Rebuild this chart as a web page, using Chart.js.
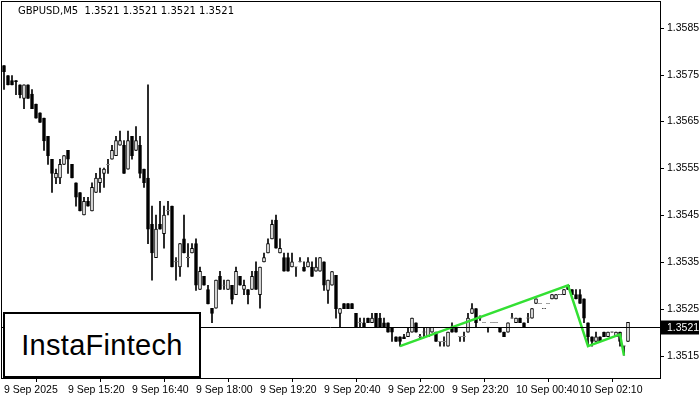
<!DOCTYPE html>
<html>
<head>
<meta charset="utf-8">
<script src="https://cdn.jsdelivr.net/npm/chart.js@4/dist/chart.umd.min.js"></script>
<style>
  body { margin: 0; background: #fff; }
  #wrap { position: relative; width: 700px; height: 400px; }
  #title { position: absolute; left: 18px; top: 5px; font: 10px "DejaVu Sans", sans-serif; color: #000; }
  #logo { position: absolute; left: 3px; top: 312px; width: 194px; height: 62px; border: 2px solid #000; background: #fff;
          font: 29px "Liberation Sans", Arial, sans-serif; color: #000; line-height: 62px; text-align: center; letter-spacing: 0.3px; }
</style>
</head>
<body>
<div id="wrap">
  <canvas id="chart" width="700" height="400"></canvas>
  <div id="title">GBPUSD,M5&nbsp; 1.3521 1.3521 1.3521 1.3521</div>
  <div id="logo">InstaFintech</div>
</div>
<script>
// M5 candles
const opens = [
  1.35769,1.35748,1.35737,1.35737,1.35728,1.35699,1.35728,1.35708,1.35687,1.35668,
  1.35657,1.35618,1.35569,1.35529,1.35529,1.35558,1.35588,1.35558,1.35519,1.35498,
  1.35450,1.35479,1.35459,1.35498,1.35519,1.35539,1.35558,1.35569,1.35577,1.35599,
  1.35599,1.35548,1.35618,1.35588,1.35599,1.35548,1.35529,1.35430,1.35359,1.35430,
  1.35410,1.35459,1.35469,1.35350,1.35339,1.35399,1.35359,1.35369,1.35389,1.35291,
  1.35319,1.35291,1.35251,1.35251,1.35319,1.35300,1.35291,1.35300,1.35280,1.35319,
  1.35291,1.35291,1.35291,1.35330,1.35280,1.35350,1.35369,1.35399,1.35439,1.35369,
  1.35359,1.35359,1.35339,1.35339,1.35350,1.35339,1.35339,1.35339,1.35330,1.35330,
  1.35350,1.35289,1.35300,1.35321,1.35240,1.35261,1.35261,1.35261,1.35240,1.35220,
  1.35220,1.35230,1.35220,1.35240,1.35230,1.35220,1.35220,1.35210,1.35190,1.35190,
  1.35190,1.35190,1.35200,1.35220,1.35190,1.35200,1.35190,1.35200,1.35200,1.35180,
  1.35180,1.35170,1.35210,1.35210,1.35190,1.35190,1.35200,1.35240,1.35250,1.35230,
  1.35220,1.35210,1.35220,1.35220,1.35210,1.35200,1.35200,1.35230,1.35220,1.35230,
  1.35220,1.35230,1.35230,1.35261,1.35261,1.35250,1.35261,1.35271,1.35271,1.35280,
  1.35280,1.35300,1.35291,1.35280,1.35280,1.35271,1.35220,1.35190,1.35180,1.35190,
  1.35200,1.35190,1.35200,1.35190,1.35200,1.35170,1.35180
];
const highs = [
  1.35769,1.35748,1.35748,1.35737,1.35728,1.35728,1.35728,1.35718,1.35687,1.35668,
  1.35657,1.35618,1.35569,1.35548,1.35569,1.35577,1.35588,1.35558,1.35519,1.35498,
  1.35488,1.35488,1.35519,1.35539,1.35550,1.35550,1.35569,1.35599,1.35618,1.35629,
  1.35609,1.35629,1.35618,1.35639,1.35618,1.35548,1.35728,1.35469,1.35450,1.35479,
  1.35469,1.35479,1.35469,1.35359,1.35389,1.35450,1.35389,1.35389,1.35399,1.35339,
  1.35319,1.35300,1.35251,1.35311,1.35330,1.35311,1.35311,1.35300,1.35339,1.35319,
  1.35311,1.35291,1.35330,1.35350,1.35339,1.35369,1.35399,1.35439,1.35450,1.35399,
  1.35369,1.35369,1.35369,1.35339,1.35359,1.35350,1.35359,1.35350,1.35359,1.35359,
  1.35350,1.35311,1.35329,1.35321,1.35250,1.35261,1.35261,1.35261,1.35240,1.35230,
  1.35230,1.35230,1.35240,1.35240,1.35240,1.35230,1.35220,1.35210,1.35190,1.35190,
  1.35195,1.35210,1.35230,1.35220,1.35195,1.35210,1.35210,1.35210,1.35200,1.35180,
  1.35190,1.35200,1.35220,1.35210,1.35190,1.35200,1.35240,1.35261,1.35250,1.35235,
  1.35220,1.35210,1.35220,1.35220,1.35210,1.35200,1.35220,1.35240,1.35230,1.35230,
  1.35220,1.35240,1.35250,1.35271,1.35261,1.35250,1.35261,1.35280,1.35280,1.35280,
  1.35291,1.35300,1.35291,1.35291,1.35291,1.35271,1.35220,1.35190,1.35200,1.35190,
  1.35200,1.35200,1.35200,1.35200,1.35200,1.35170,1.35221
];
const lows = [
  1.35718,1.35728,1.35728,1.35707,1.35700,1.35677,1.35699,1.35677,1.35657,1.35648,
  1.35588,1.35558,1.35498,1.35517,1.35517,1.35558,1.35539,1.35529,1.35469,1.35459,
  1.35450,1.35469,1.35459,1.35498,1.35498,1.35509,1.35539,1.35569,1.35577,1.35599,
  1.35539,1.35548,1.35569,1.35588,1.35529,1.35509,1.35389,1.35311,1.35359,1.35420,
  1.35379,1.35450,1.35339,1.35311,1.35319,1.35369,1.35339,1.35369,1.35289,1.35291,
  1.35300,1.35260,1.35220,1.35251,1.35291,1.35291,1.35291,1.35260,1.35280,1.35300,
  1.35280,1.35260,1.35291,1.35291,1.35251,1.35350,1.35369,1.35399,1.35379,1.35369,
  1.35330,1.35330,1.35339,1.35319,1.35350,1.35330,1.35339,1.35319,1.35330,1.35330,
  1.35289,1.35261,1.35300,1.35230,1.35210,1.35250,1.35250,1.35250,1.35210,1.35210,
  1.35210,1.35220,1.35220,1.35210,1.35210,1.35210,1.35200,1.35180,1.35180,1.35170,
  1.35186,1.35190,1.35200,1.35200,1.35185,1.35190,1.35190,1.35200,1.35180,1.35170,
  1.35170,1.35170,1.35200,1.35200,1.35180,1.35180,1.35200,1.35240,1.35210,1.35225,
  1.35220,1.35200,1.35220,1.35220,1.35200,1.35190,1.35200,1.35230,1.35220,1.35220,
  1.35210,1.35220,1.35230,1.35261,1.35261,1.35250,1.35261,1.35271,1.35271,1.35280,
  1.35280,1.35291,1.35280,1.35271,1.35261,1.35220,1.35170,1.35170,1.35180,1.35180,
  1.35190,1.35190,1.35200,1.35190,1.35170,1.35151,1.35180
];
const closes = [
  1.35756,1.35728,1.35728,1.35735,1.35707,1.35728,1.35699,1.35677,1.35657,1.35648,
  1.35608,1.35577,1.35539,1.35539,1.35558,1.35577,1.35569,1.35529,1.35488,1.35459,
  1.35479,1.35469,1.35509,1.35529,1.35529,1.35548,1.35558,1.35588,1.35609,1.35609,
  1.35539,1.35609,1.35577,1.35609,1.35539,1.35519,1.35420,1.35369,1.35420,1.35420,
  1.35450,1.35459,1.35339,1.35350,1.35389,1.35369,1.35359,1.35379,1.35300,1.35330,
  1.35300,1.35260,1.35240,1.35311,1.35291,1.35300,1.35311,1.35270,1.35330,1.35300,
  1.35300,1.35280,1.35319,1.35291,1.35339,1.35359,1.35389,1.35430,1.35379,1.35379,
  1.35330,1.35330,1.35350,1.35339,1.35350,1.35330,1.35350,1.35319,1.35339,1.35359,
  1.35300,1.35311,1.35329,1.35250,1.35250,1.35250,1.35250,1.35250,1.35210,1.35220,
  1.35210,1.35220,1.35230,1.35210,1.35210,1.35210,1.35200,1.35200,1.35180,1.35180,
  1.35186,1.35200,1.35230,1.35200,1.35190,1.35200,1.35210,1.35210,1.35180,1.35180,
  1.35180,1.35200,1.35200,1.35200,1.35190,1.35190,1.35230,1.35250,1.35220,1.35230,
  1.35220,1.35210,1.35220,1.35220,1.35200,1.35190,1.35220,1.35230,1.35230,1.35220,
  1.35210,1.35230,1.35250,1.35271,1.35261,1.35250,1.35261,1.35280,1.35280,1.35280,
  1.35291,1.35291,1.35280,1.35271,1.35261,1.35230,1.35190,1.35180,1.35190,1.35180,
  1.35190,1.35200,1.35200,1.35200,1.35180,1.35170,1.35221
];
// time axis labels and the candle they sit on
const timeLabels = ['9 Sep 2025','9 Sep 15:20','9 Sep 16:40','9 Sep 18:00','9 Sep 19:20',
  '9 Sep 20:40','9 Sep 22:00','9 Sep 23:20','10 Sep 00:40','10 Sep 02:10'];
const timeIndex = [0,16,32,48,64,80,96,112,128,144];
const priceTicks = [1.3515,1.3525,1.3535,1.3545,1.3555,1.3565,1.3575,1.3585];
// pattern line (candle index, price)
const patternIdx = [99,141,146,154,155];
const patternPrice = [1.35170,1.35300,1.35170,1.35195,1.35150];
const lastPrice = 1.3521;

const wicks = opens.map((o, i) => ({ x: i, y: [lows[i], highs[i]] }));
const bodies = opens.map((o, i) => {
  let lo = Math.min(o, closes[i]), hi = Math.max(o, closes[i]);
  if (hi - lo < 0.000005) hi = lo + 0.000005;
  return { x: i, y: [lo, hi] };
});
const bodyFill = opens.map((o, i) => closes[i] >= o ? '#ffffff' : '#000000');

const overlay = {
  id: 'overlay',
  afterDatasetsDraw(chart) {
    const { ctx, chartArea: a, scales: { y } } = chart;
    ctx.save();
    ctx.strokeStyle = '#000'; ctx.lineWidth = 1;
    ctx.strokeRect(a.left + 0.5, a.top + 0.5, a.right - a.left, a.bottom - a.top);
    ctx.font = '10.5px "Liberation Sans"'; ctx.textBaseline = 'middle'; ctx.fillStyle = '#000';
    priceTicks.forEach(v => {
      const ty = Math.round(y.getPixelForValue(v)) + 0.5;
      ctx.beginPath(); ctx.moveTo(a.right, ty); ctx.lineTo(a.right + 4, ty); ctx.stroke();
      ctx.fillText(v.toFixed(4), a.right + 7, ty);
    });
    const py = Math.round(y.getPixelForValue(lastPrice)) + 0.5;
    ctx.beginPath(); ctx.moveTo(a.left, py); ctx.lineTo(a.right, py); ctx.stroke();
    ctx.fillRect(a.right + 1, py - 7, 38, 14);
    ctx.fillStyle = '#fff';
    ctx.fillText(lastPrice.toFixed(4), a.right + 7, py + 0.5);
    ctx.restore();
  }
};

new Chart(document.getElementById('chart'), {
  type: 'bar',
  data: {
    datasets: [
      { type: 'line', data: patternIdx.map((x, i) => ({ x, y: patternPrice[i] })),
        borderColor: '#33e033', borderWidth: 2.5, pointRadius: 0, order: 0 },
      { data: bodies, backgroundColor: bodyFill, borderColor: '#000', borderWidth: 1,
        borderSkipped: false, barThickness: 3, grouped: false, order: 1 },
      { data: wicks, backgroundColor: '#000', barThickness: 1, grouped: false, order: 2 },
    ],
  },
  options: {
    responsive: false,
    animation: false,
    layout: { padding: { top: 1, left: 1 } },
    plugins: { legend: { display: false }, tooltip: { enabled: false } },
    scales: {
      x: {
        type: 'linear', min: -0.75, max: 164, offset: false,
        afterBuildTicks: s => { s.ticks = timeIndex.map(v => ({ value: v })); },
        afterFit: s => { s.height = 22; },
        ticks: { callback: (v) => timeLabels[timeIndex.indexOf(v)], align: 'start', maxRotation: 0,
                 autoSkip: false, font: { size: 10.5, family: 'Liberation Sans' }, color: '#000', padding: 2 },
        grid: { drawOnChartArea: false, tickLength: 4, color: '#000' },
        border: { color: '#000' },
      },
      y: {
        position: 'right', min: 1.35102, max: 1.35907,
        afterFit: s => { s.width = 40; },
        ticks: { display: false },
        grid: { display: false },
        border: { display: false },
      },
    },
  },
  plugins: [overlay],
});
</script>
</body>
</html>
